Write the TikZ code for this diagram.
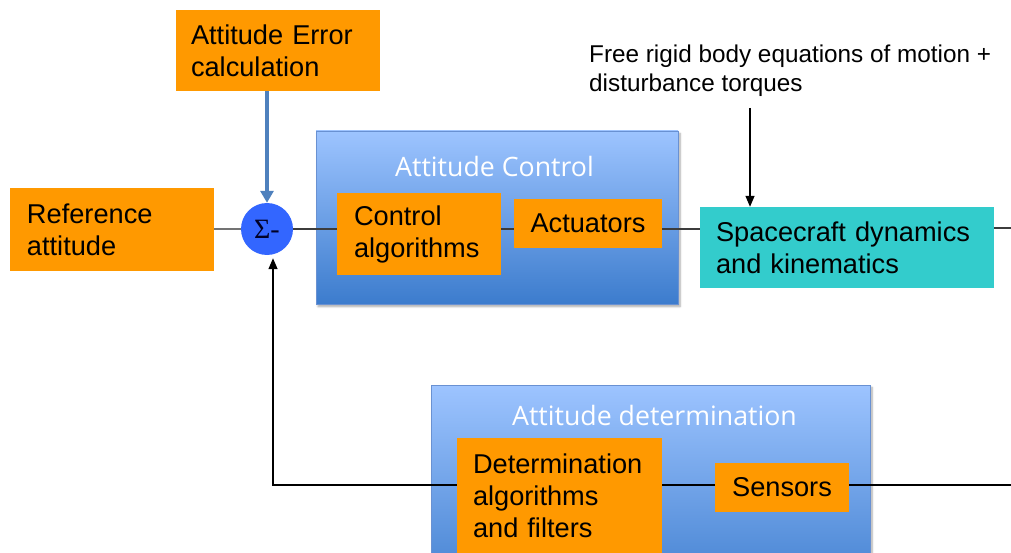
\documentclass[tikz,border=0pt]{standalone}
\usepackage{fontspec}
\setmainfont{Liberation Sans}
\newfontfamily\titlefont{Open Sans}
\newfontfamily\sigmafont{Liberation Serif}
\usetikzlibrary{arrows.meta,shadows.blur,positioning}

\definecolor{boxorange}{RGB}{255,153,0}
\definecolor{boxteal}{RGB}{51,204,204}
\definecolor{sumblue}{RGB}{51,102,255}
\definecolor{paneltop}{RGB}{157,196,255}
\definecolor{panelbot}{RGB}{60,124,205}
\definecolor{panelline}{RGB}{105,145,210}
\definecolor{errarrow}{RGB}{79,129,189}
\definecolor{wire}{RGB}{60,60,60}

\tikzset{
  bodytext/.style={font=\fontsize{27.2}{32}\selectfont},
  blockbox/.style={bodytext, fill=boxorange, draw=none, inner sep=0pt, align=left},
  panel/.style={draw=panelline, line width=0.8pt, top color=paneltop, bottom color=panelbot,
    blur shadow={shadow xshift=2pt, shadow yshift=-2.5pt, shadow blur steps=6, shadow opacity=35}},
  paneltitle/.style={font=\titlefont\fontsize{26.7}{31}\selectfont, text=white, inner sep=0pt},
  wireline/.style={draw=wire, line width=1.4pt},
  signal/.style={draw=black, line width=1.4pt, -{Triangle[length=11pt,width=9pt]}},
}

\begin{document}
\begin{tikzpicture}[x=1pt,y=-1pt]
\useasboundingbox (0,0) rectangle (1011,553);
\clip (0,0) rectangle (1011,553);

% containers for the two subsystems
\node[panel, minimum width=362pt, minimum height=173pt, inner sep=0pt] (ctlpanel) at (497,217.5) {};
\node[paneltitle] (ctltitle) at (494.5,166) {Attitude Control};
\node[panel, minimum width=439pt, minimum height=220pt, inner sep=0pt] (detpanel) at (650.5,495) {};
\node[paneltitle] (dettitle) at (654.5,415) {Attitude determination};

% blocks
\node[blockbox, minimum width=204pt, minimum height=81pt, text width=174pt] (err) at (278,50.5)
  {Attitude Error\\calculation};
\node[blockbox, minimum width=204pt, minimum height=83pt, text width=170pt] (ref) at (112,229.5)
  {Reference\\attitude};
\node[blockbox, minimum width=164pt, minimum height=82pt, text width=130pt] (ctrl) at (419,234)
  {Control\\algorithms};
\node[blockbox, minimum width=148pt, minimum height=49pt, align=center] (act) at (588,223.5)
  {Actuators};
\node[blockbox, fill=boxteal, minimum width=294pt, minimum height=81pt, text width=262pt] (sc) at (847,247.5)
  {Spacecraft dynamics\\and kinematics};
\node[blockbox, minimum width=205pt, minimum height=116pt, text width=173pt] (det) at (559.5,496)
  {Determination\\algorithms\\and filters};
\node[blockbox, minimum width=134pt, minimum height=49pt, align=center] (sens) at (782,487.5)
  {Sensors};

% summing junction
\node[circle, fill=sumblue, minimum size=52pt, inner sep=0pt,
  font=\sigmafont\fontsize{28}{28}\selectfont, text=black!85!blue] (sigma) at (267,229) {Σ-};

% external disturbance label
\node[anchor=west, inner sep=0pt, align=left, font=\fontsize{24.3}{29}\selectfont] (free) at (589,71)
  {Free rigid body equations of motion +\\disturbance torques};
\coordinate (distsrc) at (750,108);

% forward path
\draw[draw=black!55, line width=1.4pt] (ref.east |- sigma) -- (sigma.west);
\draw[wireline] (sigma.east) -- (sigma.east -| ctrl.west);
\draw[wireline] (ctrl.east |- sigma) -- (act.west |- sigma);
\draw[wireline] (act.east |- sigma) -- (sc.west |- sigma);
\coordinate (scout) at (1011,228);
\draw[wireline] (sc.east |- scout) -- (scout);

% error input
\draw[draw=errarrow, line width=4pt, -{Triangle[length=12pt,width=13pt]}] (err.south -| sigma) -- (sigma.north);

% disturbance input
\draw[signal] (distsrc) -- (distsrc |- sc.north);

% feedback path
\coordinate (fbin) at (1011,485);
\coordinate (fbcorner) at (273,485);
\draw[wireline, draw=black] (fbin) -- (sens.east |- fbin);
\draw[wireline, draw=black] (sens.west |- fbin) -- (det.east |- fbin);
\draw[signal] (det.west |- fbin) -- (fbcorner) -- ([yshift=-3pt]sigma.south -| fbcorner);
\end{tikzpicture}
\end{document}
